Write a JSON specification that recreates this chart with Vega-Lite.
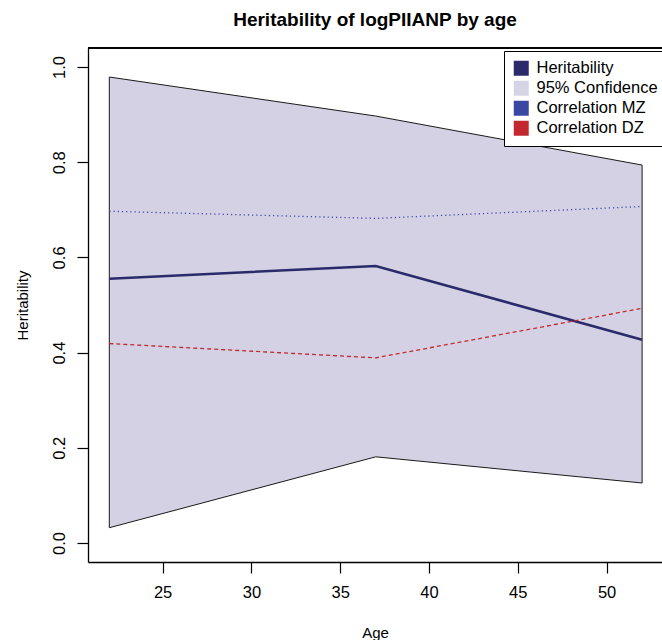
{
  "$schema": "https://vega.github.io/schema/vega-lite/v6.json",
  "width": 574,
  "height": 514,
  "autosize": {"type": "none"},
  "padding": {"left": 88, "top": 48, "right": 0, "bottom": 78},
  "background": "white",
  "config": {
    "font": "Liberation Sans",
    "view": {"stroke": null}
  },
  "title": {
    "text": "Heritability of logPIIANP by age",
    "fontSize": 19,
    "fontWeight": "bold",
    "font": "Liberation Sans",
    "color": "black",
    "anchor": "middle",
    "offset": 17
  },
  "data": {
    "values": [
      {"age": 22, "lower": 0.032, "upper": 0.979, "heritability": 0.555, "mz": 0.697, "dz": 0.419},
      {"age": 37, "lower": 0.181, "upper": 0.897, "heritability": 0.582, "mz": 0.682, "dz": 0.389},
      {"age": 52, "lower": 0.126, "upper": 0.794, "heritability": 0.427, "mz": 0.707, "dz": 0.493}
    ]
  },
  "layer": [
    {
      "mark": {"type": "area", "fill": "#d3d1e3", "stroke": "#1a1a1a", "strokeWidth": 1, "opacity": 1},
      "encoding": {
        "x": {
          "field": "age", "type": "quantitative",
          "scale": {"domain": [20.8, 53.12], "nice": false, "zero": false},
          "axis": {
            "title": "Age", "values": [25, 30, 35, 40, 45, 50],
            "labelFontSize": 16.5, "labelColor": "black", "labelFlush": false, "labelOverlap": false,
            "tickSize": 11, "tickColor": "black", "tickWidth": 1.2, "labelPadding": 11,
            "domain": true, "domainColor": "black", "domainWidth": 1.3, "grid": false,
            "titleFontSize": 15, "titleFontWeight": "normal", "titleColor": "black",
            "titleY": 70, "titleBaseline": "middle"
          }
        },
        "y": {
          "field": "upper", "type": "quantitative",
          "scale": {"domain": [-0.04, 1.04], "nice": false, "zero": false},
          "axis": {
            "title": "Heritability", "values": [0, 0.2, 0.4, 0.6, 0.8, 1.0], "format": ".1f",
            "labelAngle": 270, "labelAlign": "center", "labelBaseline": "bottom",
            "labelFontSize": 16.5, "labelColor": "black", "labelFlush": false, "labelOverlap": false,
            "tickSize": 11, "tickColor": "black", "tickWidth": 1.2, "labelPadding": 10,
            "domain": true, "domainColor": "black", "domainWidth": 1.3, "grid": false,
            "titleFontSize": 15, "titleFontWeight": "normal", "titleColor": "black",
            "titleX": -66, "titleY": 257, "titleAngle": 270, "titleAlign": "center", "titleBaseline": "middle"
          }
        },
        "y2": {"field": "lower"}
      }
    },
    {
      "mark": {"type": "rule", "color": "black", "strokeWidth": 1.3},
      "encoding": {"y": {"datum": 1.04, "type": "quantitative"}}
    },
    {
      "mark": {"type": "line", "color": "#2b2a6b", "strokeWidth": 2.5},
      "encoding": {
        "x": {"field": "age", "type": "quantitative"},
        "y": {"field": "heritability", "type": "quantitative"}
      }
    },
    {
      "mark": {"type": "line", "color": "#3f46aa", "strokeWidth": 1.3, "strokeDash": [1.2, 3]},
      "encoding": {
        "x": {"field": "age", "type": "quantitative"},
        "y": {"field": "mz", "type": "quantitative"}
      }
    },
    {
      "mark": {"type": "line", "color": "#c8282f", "strokeWidth": 1.3, "strokeDash": [4, 3]},
      "encoding": {
        "x": {"field": "age", "type": "quantitative"},
        "y": {"field": "dz", "type": "quantitative"}
      }
    },
    {
      "data": {
        "values": [
          {"series": "Heritability"},
          {"series": "95% Confidence"},
          {"series": "Correlation MZ"},
          {"series": "Correlation DZ"}
        ]
      },
      "mark": {"type": "square", "opacity": 0, "filled": true},
      "encoding": {
        "color": {
          "field": "series", "type": "nominal",
          "scale": {
            "domain": ["Heritability", "95% Confidence", "Correlation MZ", "Correlation DZ"],
            "range": ["#2d2a6c", "#d5d4e6", "#3b48a3", "#c4282f"]
          },
          "legend": {
            "orient": "none", "legendX": 416, "legendY": 3,
            "title": null,
            "symbolType": "square", "symbolSize": 225, "symbolOpacity": 1, "symbolStrokeWidth": 0,
            "labelFontSize": 16.5, "labelFont": "Liberation Sans", "labelColor": "black",
            "labelOffset": 7, "rowPadding": 3, "padding": 9, "labelLimit": 300,
            "strokeColor": "black", "fillColor": "white"
          }
        }
      }
    }
  ]
}
